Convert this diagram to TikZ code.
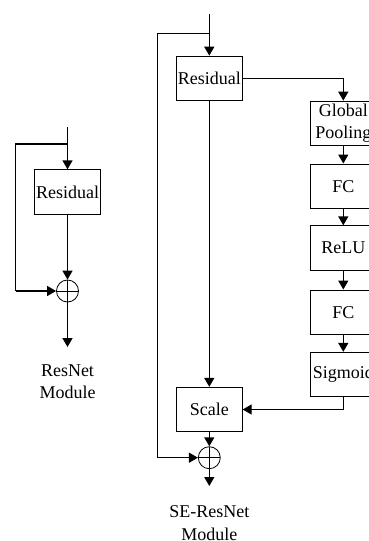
\documentclass[tikz,border=0pt]{standalone}
\usepackage{fontspec}
\setmainfont{Liberation Serif}
\usetikzlibrary{arrows.meta}
\begin{document}
\begin{tikzpicture}[x=1pt,y=-1pt,
  blk/.style={draw, line width=0.8pt, minimum width=66pt, minimum height=44.5pt,
              inner sep=0pt, align=center, font=\fontsize{18}{22}\selectfont},
  sumnode/.style={draw, circle, line width=0.8pt, minimum size=22pt, inner sep=0pt,
                  path picture={\draw[line width=0.8pt]
                    (path picture bounding box.north) -- (path picture bounding box.south)
                    (path picture bounding box.west) -- (path picture bounding box.east);}},
  link/.style={line width=1.4pt},
  arr/.style={line width=1.4pt, -{Triangle[length=9pt,width=10pt]}},
  caption/.style={align=center, font=\fontsize{18}{22.3}\selectfont, inner sep=0pt}]
\clip (0,0) rectangle (369,541);

% ---------------- ResNet module ----------------
\coordinate (in1) at (67.5,127);
\coordinate (split1) at (67.5,144);
\coordinate (lc1) at (15.7,144);
\coordinate (lc2) at (15.7,291);
\node[blk] (res1) at (67.5,192) {Residual};
\node[sumnode] (sum1) at (67.5,291) {};
\coordinate (out1) at (67.5,347);
\draw[arr] (in1) -- (res1.north);
\draw[link] (split1) -- (lc1) -- (lc2);
\draw[arr] (lc2) -- (sum1.west);
\draw[arr] (res1.south) -- (sum1.north);
\draw[arr] (sum1.south) -- (out1);
\node[caption] (cap1) at (67.5,382) {ResNet\\Module};

% ---------------- SE-ResNet module ----------------
\coordinate (in2) at (209.3,14);
\coordinate (split2) at (209.3,33.7);
\coordinate (lc3) at (157.7,33.7);
\coordinate (lc4) at (157.7,457.7);
\node[blk] (res2) at (209.3,78.3) {Residual};
\node[blk] (gp) at (343.3,123.3) {Global\\Pooling};
\node[blk] (fc1) at (343.3,186.2) {FC};
\node[blk] (relu) at (343.3,248) {ReLU};
\node[blk] (fc2) at (343.3,312.2) {FC};
\node[blk] (sig) at (343.3,374.5) {Sigmoid};
\node[blk] (scale) at (209.3,409.5) {Scale};
\node[sumnode] (sum2) at (209.3,457.7) {};
\coordinate (out2) at (209.3,486);

\draw[arr] (in2) -- (res2.north);
\draw[link] (split2) -- (lc3) -- (lc4);
\draw[arr] (lc4) -- (sum2.west);
\draw[arr] (res2.east) -| (gp.north);
\draw[arr] (gp) -- (fc1);
\draw[arr] (fc1) -- (relu);
\draw[arr] (relu) -- (fc2);
\draw[arr] (fc2) -- (sig);
\draw[arr] (sig.south) |- (scale.east);
\draw[arr] (res2.south) -- (scale.north);
\draw[arr] (scale.south) -- (sum2.north);
\draw[arr] (sum2.south) -- (out2);
\node[caption] (cap2) at (209.3,523) {SE-ResNet\\Module};
\end{tikzpicture}
\end{document}
